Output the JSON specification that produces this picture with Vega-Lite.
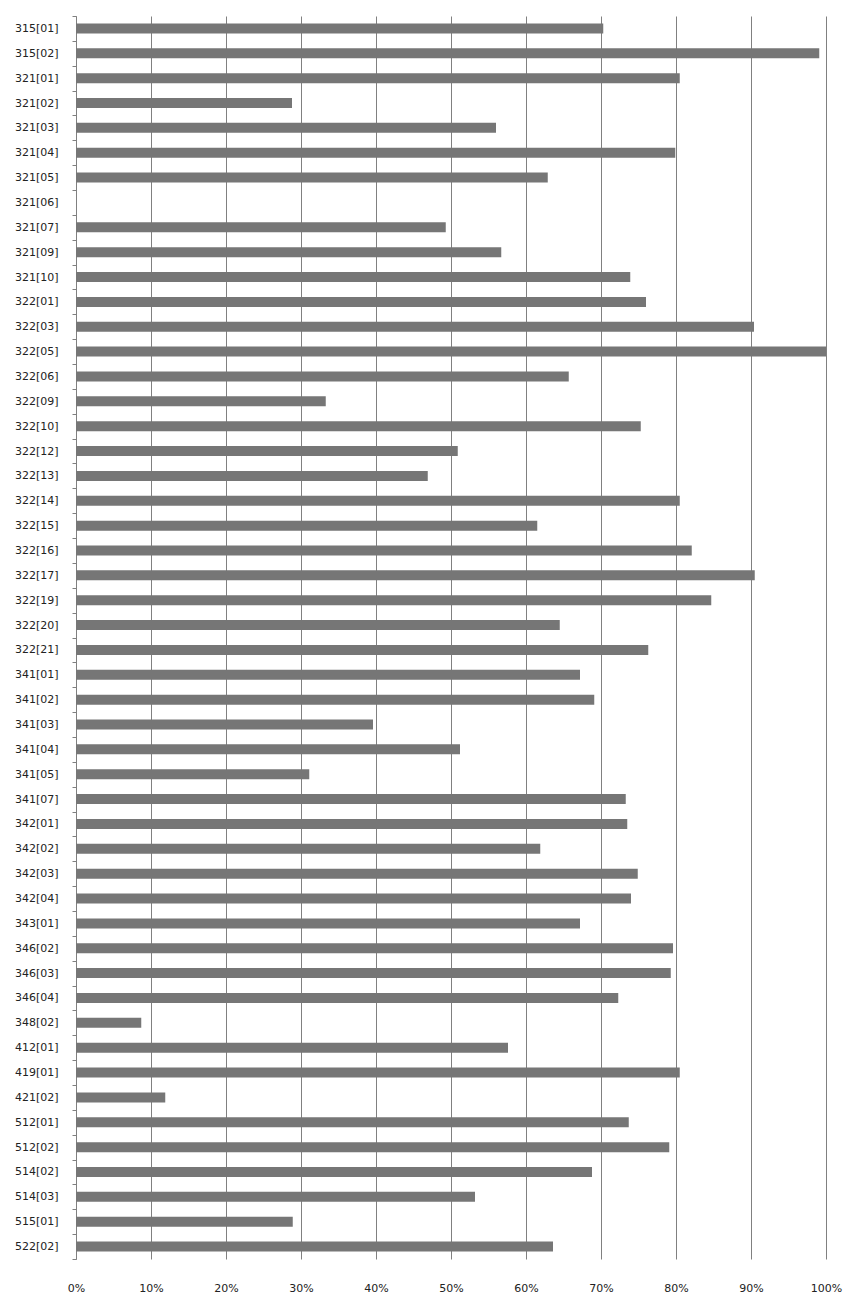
{
  "$schema": "https://vega.github.io/schema/vega-lite/v6.json",
  "width": 750,
  "height": 1243,
  "autosize": {"type": "none"},
  "padding": {"left": 76, "top": 16, "right": 30, "bottom": 47},
  "config": {"view": {"stroke": null}, "font": "DejaVu Sans"},
  "data": {"values": [
    {"code": "315[01]", "share": 0.703},
    {"code": "315[02]", "share": 0.991},
    {"code": "321[01]", "share": 0.805},
    {"code": "321[02]", "share": 0.288},
    {"code": "321[03]", "share": 0.560},
    {"code": "321[04]", "share": 0.799},
    {"code": "321[05]", "share": 0.629},
    {"code": "321[06]", "share": 0},
    {"code": "321[07]", "share": 0.493},
    {"code": "321[09]", "share": 0.567},
    {"code": "321[10]", "share": 0.739},
    {"code": "322[01]", "share": 0.760},
    {"code": "322[03]", "share": 0.904},
    {"code": "322[05]", "share": 1.0},
    {"code": "322[06]", "share": 0.657},
    {"code": "322[09]", "share": 0.333},
    {"code": "322[10]", "share": 0.753},
    {"code": "322[12]", "share": 0.509},
    {"code": "322[13]", "share": 0.469},
    {"code": "322[14]", "share": 0.805},
    {"code": "322[15]", "share": 0.615},
    {"code": "322[16]", "share": 0.821},
    {"code": "322[17]", "share": 0.905},
    {"code": "322[19]", "share": 0.847},
    {"code": "322[20]", "share": 0.645},
    {"code": "322[21]", "share": 0.763},
    {"code": "341[01]", "share": 0.672},
    {"code": "341[02]", "share": 0.691},
    {"code": "341[03]", "share": 0.396},
    {"code": "341[04]", "share": 0.512},
    {"code": "341[05]", "share": 0.311},
    {"code": "341[07]", "share": 0.733},
    {"code": "342[01]", "share": 0.735},
    {"code": "342[02]", "share": 0.619},
    {"code": "342[03]", "share": 0.749},
    {"code": "342[04]", "share": 0.740},
    {"code": "343[01]", "share": 0.672},
    {"code": "346[02]", "share": 0.796},
    {"code": "346[03]", "share": 0.793},
    {"code": "346[04]", "share": 0.723},
    {"code": "348[02]", "share": 0.087},
    {"code": "412[01]", "share": 0.576},
    {"code": "419[01]", "share": 0.805},
    {"code": "421[02]", "share": 0.119},
    {"code": "512[01]", "share": 0.737},
    {"code": "512[02]", "share": 0.791},
    {"code": "514[02]", "share": 0.688},
    {"code": "514[03]", "share": 0.532},
    {"code": "515[01]", "share": 0.289},
    {"code": "522[02]", "share": 0.636}
  ]},
  "mark": {"type": "bar", "color": "#767676", "size": 10},
  "encoding": {
    "y": {
      "field": "code",
      "type": "nominal",
      "sort": null,
      "scale": {"paddingInner": 0, "paddingOuter": 0},
      "axis": {
        "title": null,
        "tickBand": "extent",
        "tickSize": 4,
        "tickColor": "#808080",
        "domainColor": "#808080",
        "labelPadding": 14,
        "labelFontSize": 11,
        "labelColor": "#222222",
        "labelFont": "DejaVu Sans",
        "grid": false
      }
    },
    "x": {
      "field": "share",
      "type": "quantitative",
      "scale": {"domain": [0, 1], "nice": false},
      "axis": {
        "title": null,
        "format": "%",
        "values": [0, 0.1, 0.2, 0.3, 0.4, 0.5, 0.6, 0.7, 0.8, 0.9, 1],
        "grid": true,
        "gridColor": "#808080",
        "gridOpacity": 1,
        "domain": false,
        "ticks": false,
        "labelPadding": 23,
        "labelFontSize": 11,
        "labelColor": "#222222",
        "labelFont": "DejaVu Sans",
        "labelFlush": false
      }
    }
  }
}
